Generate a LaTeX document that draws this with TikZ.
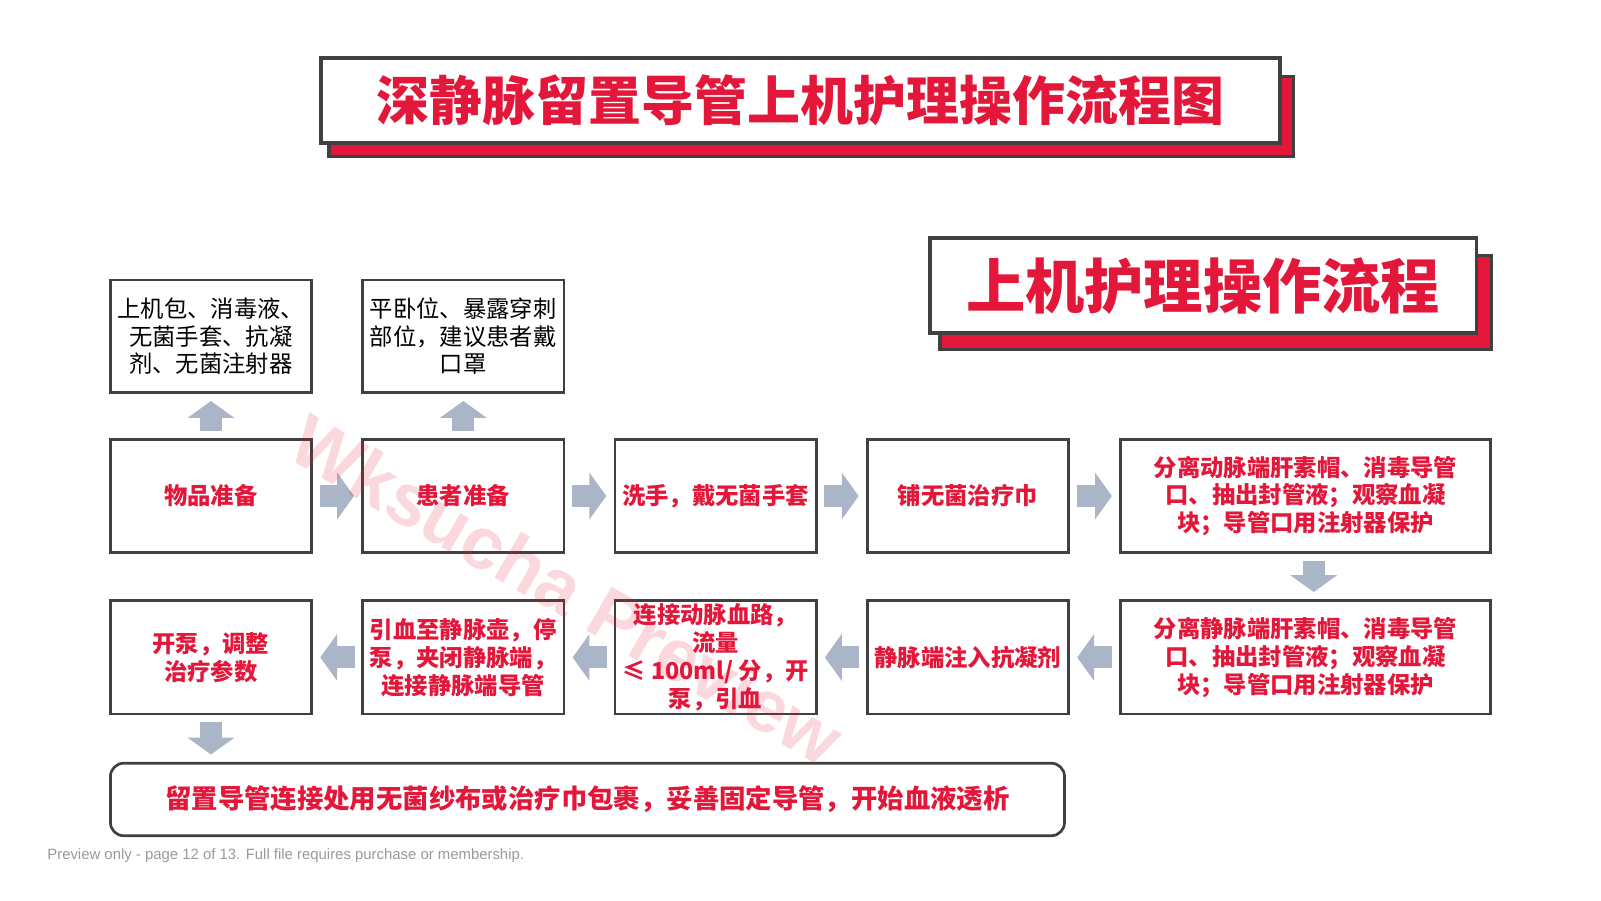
\documentclass[tikz,border=0pt]{standalone}
\usepackage{fontspec}
\setmainfont{Noto Sans CJK SC}
\newfontfamily\latinsans{Liberation Sans}
\usetikzlibrary{positioning,arrows.meta}
\definecolor{mred}{HTML}{E2173A}
\definecolor{boxgray}{HTML}{404040}
\definecolor{arrowgray}{HTML}{ABB5C8}
\begin{document}
\begin{tikzpicture}[
  x=0.02cm, y=-0.02cm,
  stepbox/.style = {
    draw=boxgray,
    line width=1.5pt,
    shape=rectangle,
    minimum width=3.94cm,
    minimum height=2.22cm,
    inner sep=0pt,
    outer sep=0pt,
    align=center,
    font=\fontsize{13}{15.5}\selectfont
  },
  redstep/.style = {
    stepbox,
    text=mred,
    font=\fontsize{13}{15.5}\selectfont\bfseries
  },
  widestep/.style = {
    redstep,
    minimum width=7.24cm
  },
  flowarrow/.style = {
    draw=arrowgray,
    line width=0.43cm,
    -{Triangle[width=0.9cm,length=0.33cm]},
    shorten <=0.16cm,
    shorten >=0.17cm
  },
  titlebox/.style = {
    draw=boxgray,
    line width=2pt,
    fill=white,
    text=mred,
    inner sep=0pt,
    font=\bfseries
  },
  shadowbar/.style = {
    draw=boxgray,
    line width=2pt,
    fill=mred
  },
]
  \useasboundingbox (0,0) rectangle (1567,881);

  % titles
  \draw[shadowbar] (322,75) rectangle (1266,153);
  \node (title)[
    titlebox,
    minimum width=18.78cm,
    minimum height=1.66cm
  ] at (783.5,98.5) {\fontsize{29.5}{29.5}\selectfont 深静脉留置导管上机护理操作流程图};
  \draw[shadowbar] (920,250) rectangle (1460,342);
  \node (subtitle)[
    titlebox,
    minimum width=10.7cm,
    minimum height=1.86cm
  ] at (1177.5,279.5) {\fontsize{33}{33}\selectfont 上机护理操作流程};

  % first row
  \node (items)[redstep] at (206.5,485.5) {物品准备};
  \node (patient)[
    redstep,
    right=1cm of items
  ] {患者准备};
  \node (wash)[
    redstep,
    right=1cm of patient
  ] {洗手，戴无菌手套};
  \node (drape)[
    redstep,
    right=1cm of wash
  ] {铺无菌治疗巾};
  \node (artery)[
    widestep,
    right=1.02cm of drape
  ] {分离动脉端肝素帽、消毒导管\\口、抽出封管液；观察血凝\\块；导管口用注射器保护};

  % details above
  \node (itemlist)[
    stepbox,
    minimum height=2.2cm,
    above=0.92cm of items
  ] {上机包、消毒液、\\无菌手套、抗凝\\剂、无菌注射器};
  \node (patientpos)[
    stepbox,
    minimum height=2.2cm,
    above=0.92cm of patient
  ] {平卧位、暴露穿刺\\部位，建议患者戴\\口罩};

  % second row
  \node (vein)[
    widestep,
    below=0.94cm of artery
  ] {分离静脉端肝素帽、消毒导管\\口、抽出封管液；观察血凝\\块；导管口用注射器保护};
  \node (heparin)[
    redstep,
    below=0.94cm of drape
  ] {静脉端注入抗凝剂};
  \node (connect)[
    redstep,
    below=0.94cm of wash
  ] {连接动脉血路，\\流量\\≤ 100ml/ 分，开\\泵，引血};
  \node (drawblood)[
    redstep,
    below=0.94cm of patient
  ] {引血至静脉壶，停\\泵，夹闭静脉端，\\连接静脉端导管};
  \node (pump)[
    redstep,
    below=0.94cm of items
  ] {开泵，调整\\治疗参数};

  \node (fix)[
    draw=boxgray,
    line width=1.5pt,
    outer sep=0pt,
    rounded corners=0.26cm,
    minimum width=18.68cm,
    minimum height=1.42cm,
    text=mred,
    font=\fontsize{14.7}{18}\selectfont\bfseries
  ] at (575,782.5) {留置导管连接处用无菌纱布或治疗巾包裹，妥善固定导管，开始血液透析};

  \draw[flowarrow] (items.north) -- (itemlist.south);
  \draw[flowarrow] (patient.north) -- (patientpos.south);
  \draw[flowarrow] (items.east) -- (patient.west);
  \draw[flowarrow] (patient.east) -- (wash.west);
  \draw[flowarrow] (wash.east) -- (drape.west);
  \draw[flowarrow] (drape.east) -- (artery.west);
  \draw[flowarrow] ([xshift=0.16cm]artery.south) -- ([xshift=0.16cm]vein.north);
  \draw[flowarrow] (vein.west) -- (heparin.east);
  \draw[flowarrow] (heparin.west) -- (connect.east);
  \draw[flowarrow] (connect.west) -- (drawblood.east);
  \draw[flowarrow] (drawblood.west) -- (pump.east);
  \draw[flowarrow] (pump.south) -- (pump.south |- fix.north);

  % watermark and footer
  \node (mark)[
    rotate=-30,
    text=mred,
    opacity=0.17,
    font=\latinsans\bfseries\fontsize{41}{41}\selectfont
  ] at (555,577) {Wksucha Preview};
  \node (footer)[
    anchor=west,
    inner sep=0pt,
    text=gray!80,
    font=\latinsans\fontsize{8.3}{10}\selectfont
  ] at (46,837) {Preview only - page 12 of 13. Full file requires purchase or membership.};
\end{tikzpicture}
\end{document}
